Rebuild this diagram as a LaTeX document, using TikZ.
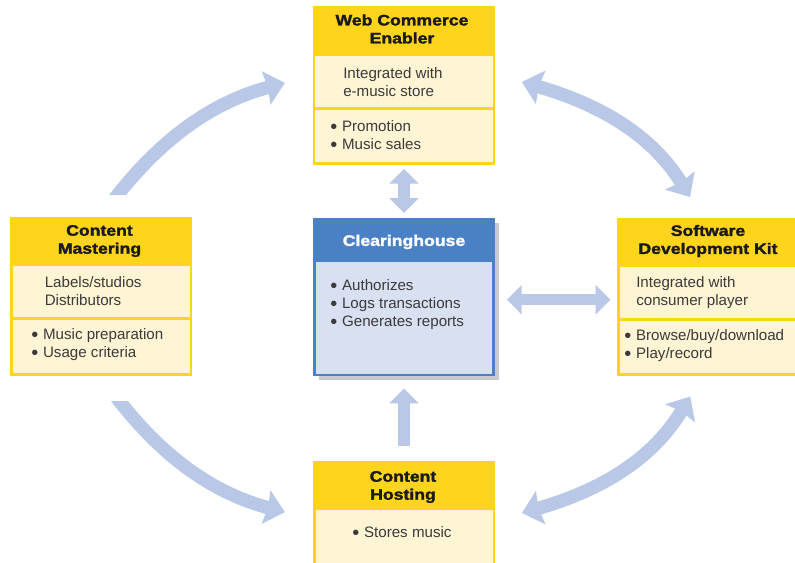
\documentclass[tikz,border=0pt]{standalone}
\usepackage{fontspec}
\setmainfont{Liberation Sans}
\newfontfamily\headfont[FakeStretch=1.16,FakeBold=2]{Liberation Sans Bold}
\usetikzlibrary{arrows.meta}
\definecolor{ybox}{HTML}{FFD41C}
\definecolor{cream}{HTML}{FFF4D4}
\definecolor{flowc}{HTML}{B9C8E6}
\definecolor{bluehead}{HTML}{4A80C4}
\definecolor{bluebody}{HTML}{D9E0F1}
\definecolor{shadowc}{HTML}{C8CACD}
\definecolor{bodyc}{HTML}{3A3A3A}
\definecolor{headc}{HTML}{1A1A1A}
\tikzset{
  panel/.style={anchor=north west,inner sep=0pt,outer sep=0pt,draw=none},
  outerbox/.style={panel,fill=ybox},
  section/.style={panel,fill=cream},
  head/.style={inner sep=0pt,align=center,text=headc,font=\headfont\fontsize{11.4}{13.5}\selectfont},
  whitehead/.style={head,text=white},
  body/.style={anchor=west,inner sep=0pt,align=left,text=bodyc,font=\fontsize{11.35}{13.5}\selectfont},
  bigflow/.style={draw=flowc,line width=10pt,{Stealth[length=14.5pt,width=25.5pt,inset=1.5pt,fill=flowc]}-{Stealth[length=14.5pt,width=25.5pt,inset=1.5pt,fill=flowc]}},
  oneflow/.style={draw=flowc,line width=10pt,-{Stealth[length=14.5pt,width=25.5pt,inset=1.5pt,fill=flowc]}},
  smallflow/.style={draw=flowc,line width=8.6pt,{Triangle[length=11pt,width=21.5pt,fill=flowc]}-{Triangle[length=11pt,width=21.5pt,fill=flowc]}},
  smallone/.style={draw=flowc,line width=9.6pt,-{Triangle[length=11pt,width=21.5pt,fill=flowc]}},
}
\newcommand{\bul}{\raisebox{-1.4pt}{\fontsize{15}{15}\selectfont •}\hspace{3.6pt}}
\begin{document}
\begin{tikzpicture}[x=0.75pt,y=-0.75pt]
\useasboundingbox (0,0) rectangle (795,562);
\clip (0,0) rectangle (795,562);

% Boxes
\node[outerbox,minimum width=182*0.75pt,minimum height=159*0.75pt] (web) at (313,6) {};
\node[section,minimum width=177.5*0.75pt,minimum height=51.5*0.75pt] (webA) at (315,55.5) {};
\node[section,minimum width=177.5*0.75pt,minimum height=52*0.75pt] (webB) at (315,110) {};

\node[outerbox,minimum width=182*0.75pt,minimum height=159*0.75pt] (mast) at (10,217) {};
\node[section,minimum width=177.5*0.75pt,minimum height=51.5*0.75pt] (mastA) at (12.5,265.5) {};
\node[section,minimum width=177.5*0.75pt,minimum height=53*0.75pt] (mastB) at (12.5,320) {};

\node[panel,fill=shadowc,minimum width=180*0.75pt,minimum height=157*0.75pt] (shadow) at (319,223) {};
\node[panel,fill=bluehead,minimum width=182*0.75pt,minimum height=158.5*0.75pt] (clear) at (313,217.5) {};
\node[panel,fill=bluebody,minimum width=176*0.75pt,minimum height=111.5*0.75pt] (clearA) at (316,262) {};

\node[outerbox,minimum width=182*0.75pt,minimum height=158.5*0.75pt] (sdk) at (617,217.5) {};
\node[section,minimum width=178*0.75pt,minimum height=51*0.75pt] (sdkA) at (619.5,267) {};
\node[section,minimum width=178*0.75pt,minimum height=52*0.75pt] (sdkB) at (619.5,321) {};

\node[outerbox,minimum width=182*0.75pt,minimum height=103*0.75pt] (host) at (313,461) {};
\node[section,minimum width=177*0.75pt,minimum height=60*0.75pt] (hostA) at (315.5,510) {};

% Curved connectors
\begin{scope}
\clip (0,0) rectangle (795,194);
\draw[oneflow,shorten >=21.8pt] (mast.north) .. controls (150,148) and (205,104) .. ([yshift=7.5pt]web.west);
\end{scope}
\begin{scope}
\clip (0,401) rectangle (795,562);
\draw[oneflow,shorten >=21.8pt] (mast.south) .. controls (150,447) and (205,491) .. ([yshift=-5.25pt]host.west);
\end{scope}
\draw[bigflow,shorten <=21pt,shorten >=18pt] ([yshift=8.5pt]web.east) .. controls (595,103) and (650,132) .. ([xshift=-4pt]sdk.north);
\draw[bigflow,shorten <=21pt,shorten >=18pt] ([yshift=-6.2pt]host.east) .. controls (595,492) and (650,463) .. ([xshift=-4pt]sdk.south);

% Straight connectors
\draw[smallflow,shorten <=3pt,shorten >=3.5pt] (web.south) -- (clear.north);
\draw[smallflow,shorten <=9pt,shorten >=5pt] ([yshift=-2.2pt]clear.east) -- ([yshift=-2.2pt]sdk.west);
\draw[smallone,shorten <=11pt,shorten >=9.5pt] (host.north) -- (clear.south);

% Text
\node[head] (webH) at (402,29) {Web Commerce\\Enabler};
\node[body] (webT) at (343,82) {Integrated with\\e-music store};
\node[body] (webL) at (330,136) {\bul Promotion\\\bul Music sales};

\node[head] (mastH) at (99.5,241) {Content\\Mastering};
\node[body] (mastT) at (44.5,291) {Labels/studios\\Distributors};
\node[body] (mastL) at (31,345) {\bul Music preparation\\\bul Usage criteria};

\node[whitehead] (clearH) at (404,242) {Clearinghouse};
\node[body] (clearL) at (330,305) {\bul Authorizes\\\bul Logs transactions\\\bul Generates reports};

\node[head] (sdkH) at (708,241) {Software\\Development Kit};
\node[body] (sdkT) at (636,293) {Integrated with\\consumer player};
\node[body] (sdkL) at (624,346) {\bul Browse/buy/download\\\bul Play/record};

\node[head] (hostH) at (403,487) {Content\\Hosting};
\node[body] (hostL) at (352,533) {\bul Stores music};
\end{tikzpicture}
\end{document}
